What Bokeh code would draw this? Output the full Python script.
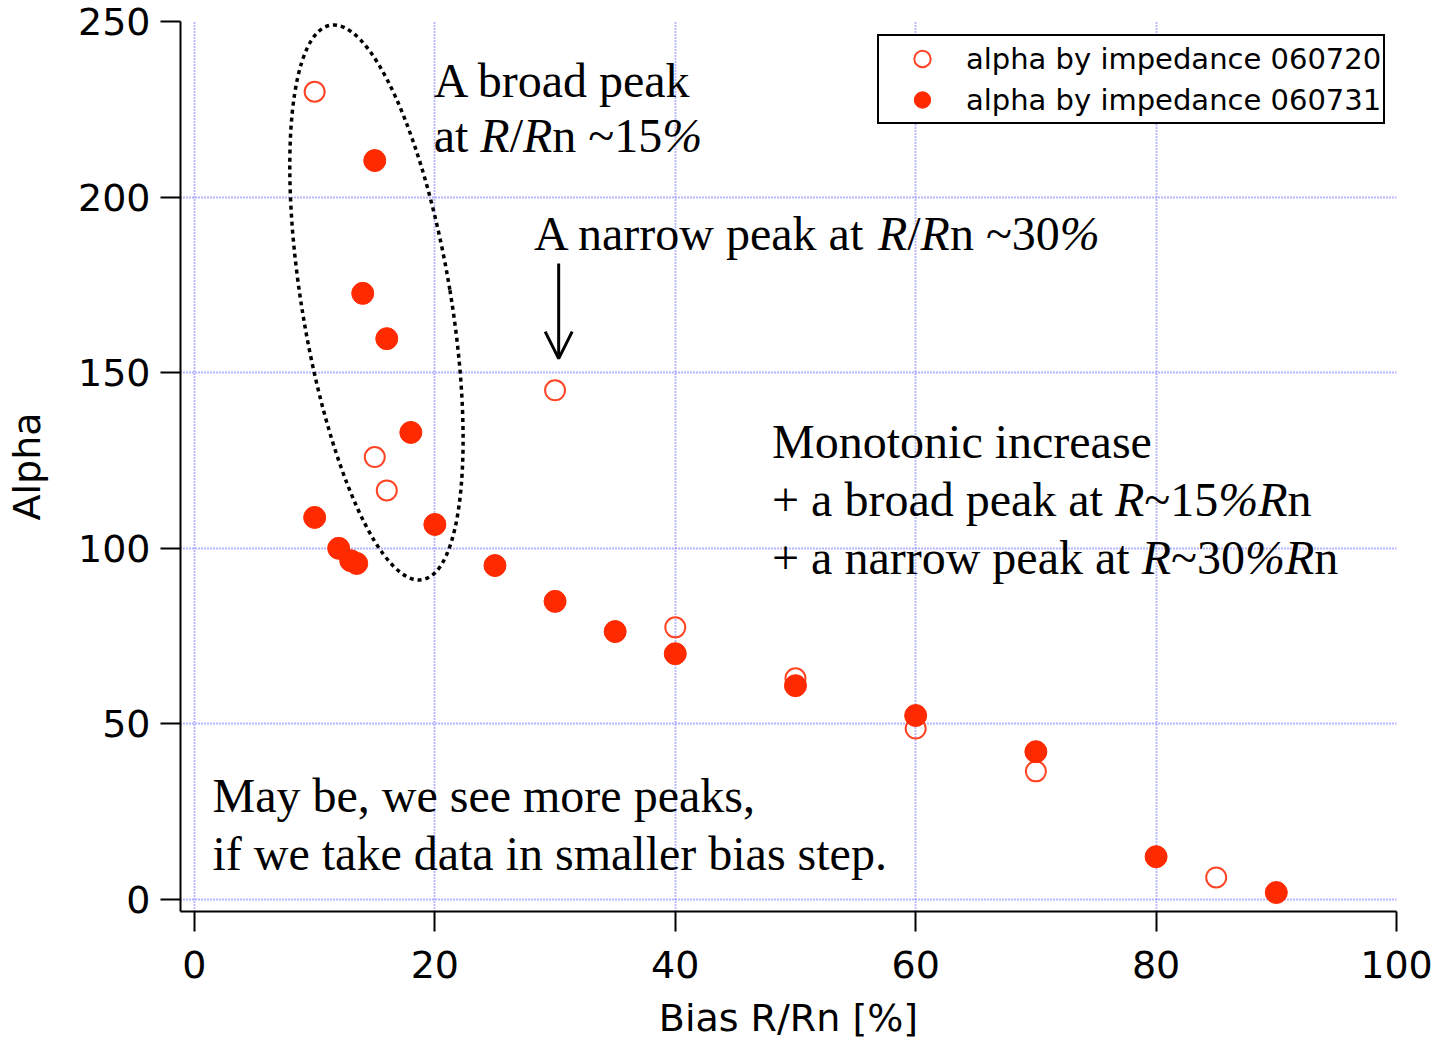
import math

from bokeh.embed import file_html
from bokeh.models import Arrow, FixedTicker, Label, Legend, LegendItem, OpenHead, Range1d
from bokeh.plotting import figure
from bokeh.resources import INLINE

# ---- data -----------------------------------------------------------------
bias_060720 = [10, 15, 16, 30, 40, 50, 60, 70, 85]
alpha_060720 = [230, 126, 116.5, 145, 77.5, 63, 48.7, 36.5, 6.3]

bias_060731 = [10, 12, 13, 13.5, 14, 15, 16, 18, 20, 25, 30, 35, 40, 50, 60, 70, 80, 90]
alpha_060731 = [108.8, 100, 96.5, 95.7, 172.6, 210.4, 159.7, 133, 106.8, 95.1,
                84.9, 76.3, 70, 60.9, 52.4, 42.1, 12.2, 2]

series_labels = ["alpha by impedance 060720", "alpha by impedance 060731"]
x_ticks = [0, 20, 40, 60, 80, 100]
y_ticks = [0, 50, 100, 150, 200, 250]

# ---- figure ---------------------------------------------------------------
p = figure(
    width=1441, height=1042,
    x_range=Range1d(-1.16, 100), y_range=Range1d(-3.4, 250),
    output_backend="svg", toolbar_location=None,
    min_border_left=180, min_border_right=45,
    min_border_top=21, min_border_bottom=131,
)
p.outline_line_color = None
p.background_fill_color = "white"
p.border_fill_color = "white"

AX_FONT = "DejaVu Sans"
for ax, ticks in ((p.xaxis, x_ticks), (p.yaxis, y_ticks)):
    ax.ticker = FixedTicker(ticks=ticks, minor_ticks=[])
    ax.axis_line_width = 2
    ax.axis_line_color = "black"
    ax.major_tick_line_width = 2
    ax.major_tick_line_color = "black"
    ax.major_tick_out = 20
    ax.major_tick_in = 0
    ax.minor_tick_out = 0
    ax.minor_tick_in = 0
    ax.major_label_text_font = AX_FONT
    ax.major_label_text_font_size = "38px"
    ax.major_label_text_font_style = "normal"
    ax.major_label_text_color = "black"
    ax.axis_label_text_font = AX_FONT
    ax.axis_label_text_font_size = "38px"
    ax.axis_label_text_font_style = "normal"
    ax.axis_label_text_color = "black"

p.xaxis.axis_label = "Bias R/Rn [%]"
p.xaxis.major_label_standoff = 19
p.xaxis.axis_label_standoff = 15
p.yaxis.axis_label = "Alpha"
p.yaxis.major_label_standoff = 10
p.yaxis.axis_label_standoff = 26

for g in (p.xgrid, p.ygrid):
    g.grid_line_color = "#6f6fff"
    g.grid_line_dash = "1 2"
    g.grid_line_width = 1.8

# ---- markers --------------------------------------------------------------
r_open = p.scatter(bias_060720, alpha_060720, marker="circle", size=20,
                   fill_color=None, line_color="#ff4526", line_width=2)
r_fill = p.scatter(bias_060731, alpha_060731, marker="circle", size=22,
                   fill_color="#ff2a00", line_color="#ff2a00", line_width=1)

# legend box: bottom-left corner given in pixels from the frame's bottom-left
legend = Legend(
    items=[LegendItem(label=series_labels[0], renderers=[r_open]),
           LegendItem(label=series_labels[1], renderers=[r_fill])],
    location=(697, 787), margin=0, padding=2, spacing=0,
    glyph_width=82, glyph_height=41, label_standoff=3,
    label_text_font=AX_FONT, label_text_font_size="29px",
    label_text_color="black",
    border_line_color="black", border_line_width=2, border_line_alpha=1.0,
    background_fill_color="white", background_fill_alpha=1.0,
)
p.add_layout(legend)

# ---- dotted ellipse around the low-bias cluster ---------------------------
p.ellipse(x=[15.14], y=[170.0], width=149, height=562, angle=math.radians(9.4),
          width_units="screen", height_units="screen",
          fill_color=None, line_color="black", line_width=3.5, line_dash="4 4")

# ---- arrow pointing at the narrow peak ------------------------------------
p.add_layout(Arrow(end=OpenHead(size=27, line_width=3, line_color="black"),
                   x_start=30.3, y_start=181.1, x_end=30.3, y_end=154.0,
                   line_width=3, line_color="black"))

# ---- serif annotations with italic symbols --------------------------------
SERIF = "Liberation Serif"
FS = 48
REG_W = {" ": 250, "A": 722, "a": 444, "t": 278, "n": 500, "r": 333, "o": 500,
         "w": 722, "p": 500, "e": 444, "k": 500, "b": 500, "d": 500, "/": 278,
         "~": 541, "1": 500, "5": 500, "3": 500, "0": 500, "+": 564}
ITA_W = {"R": 611, "%": 833, "n": 500}


def seg_width(text, italic):
    table = ITA_W if italic else REG_W
    return sum(table.get(c, 500) for c in text) * FS / 1000.0


def rich_text(x, y, segments):
    off = 0.0
    for text, italic in segments:
        p.add_layout(Label(x=x, y=y, x_offset=off, text=text,
                           text_font=SERIF, text_font_size=f"{FS}px",
                           text_font_style="italic" if italic else "normal",
                           text_baseline="alphabetic", text_color="black"))
        off += seg_width(text, italic)


rich_text(19.9, 233.1, [("A broad peak", False)])
rich_text(19.9, 217.4, [("at ", False), ("R", True), ("/", False), ("R", True),
                        ("n ~15", False), ("%", True)])
rich_text(28.25, 189.6, [("A narrow peak at ", False), ("R", True), ("/", False),
                         ("R", True), ("n ~30", False), ("%", True)])
rich_text(48.05, 130.3, [("Monotonic increase", False)])
rich_text(48.05, 113.8, [("+ a broad peak at ", False), ("R", True), ("~15", False),
                         ("%R", True), ("n", False)])
rich_text(48.05, 97.3, [("+ a narrow peak at ", False), ("R", True), ("~30", False),
                        ("%R", True), ("n", False)])
rich_text(1.5, 29.6, [("May be, we see more peaks,", False)])
rich_text(1.5, 13.1, [("if we take data in smaller bias step.", False)])

open("out.html", "w").write(file_html(p, INLINE))
